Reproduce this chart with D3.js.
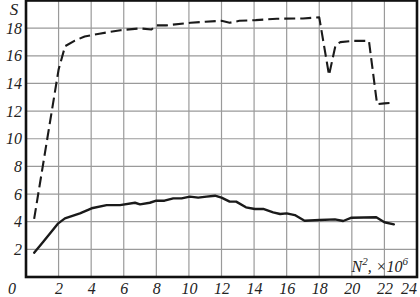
<!DOCTYPE html>
<html><head><meta charset="utf-8">
<script src="https://cdn.jsdelivr.net/npm/d3@7"></script>
<style>
body{margin:0;background:#fff;}
svg{display:block;}
text{font-family:"Liberation Serif","Times New Roman",serif;font-style:italic;fill:#222;}
</style></head>
<body>
<script>
const xTicks = [2,4,6,8,10,12,14,16,18,20,22,24];
const yTicks = [2,4,6,8,10,12,14,16,18];
const dashedX = [0.5,2.0,2.4,3.0,3.6,4.5,5.8,7.0,7.7,8.0,8.6,10.1,11.0,12.0,12.5,13.1,14.1,15.4,17.0,18.0,18.6,19.0,19.3,20.1,21.05,21.55,22.0,22.6];
const dashedY = [4.2,15.0,16.7,17.1,17.4,17.6,17.85,17.98,17.9,18.2,18.2,18.39,18.46,18.53,18.39,18.53,18.58,18.68,18.7,18.78,14.6,16.77,16.99,17.08,17.08,12.5,12.56,12.6];
const solidX = [0.5,1.06,1.98,2.39,3.31,4.03,4.95,5.77,6.69,7.0,7.6,8.0,8.5,9.04,9.55,10.06,10.57,11.08,11.6,12.0,12.5,12.9,13.5,14.05,14.56,15.17,15.6,16.0,16.5,17.1,18.04,18.96,19.47,19.98,21.5,22.0,22.58];
const solidY = [1.76,2.55,3.88,4.24,4.6,4.97,5.2,5.2,5.37,5.25,5.37,5.52,5.52,5.69,5.69,5.81,5.74,5.81,5.88,5.74,5.45,5.45,5.04,4.92,4.92,4.68,4.56,4.6,4.48,4.07,4.12,4.17,4.05,4.29,4.32,3.96,3.81];

const W = 420, H = 297;
const m = {left:26, right:3, top:0.5, bottom:20};
const svg = d3.select("body").append("svg").attr("width",W).attr("height",H);
const x = d3.scaleLinear().domain([0,24]).range([m.left, W-m.right]);
const y = d3.scaleLinear().domain([0,20]).range([H-m.bottom, m.top]);

// grid
const g = svg.append("g");
g.selectAll(".gx").data(xTicks.slice(0,-1)).join("line")
  .attr("x1",d=>x(d)).attr("x2",d=>x(d)).attr("y1",y(0)).attr("y2",y(20))
  .attr("stroke","#9a9a9a").attr("stroke-width",1.2);
g.selectAll(".gy").data(yTicks).join("line")
  .attr("x1",x(0)).attr("x2",x(24)).attr("y1",d=>y(d)).attr("y2",d=>y(d))
  .attr("stroke","#9a9a9a").attr("stroke-width",1.2);

// curves
const line = d3.line().x(d=>x(d[0])).y(d=>y(d[1]));
svg.append("path").datum(dashedX.map((v,i)=>[v,dashedY[i]]))
  .attr("d",line).attr("fill","none").attr("stroke","#1a1a1a").attr("stroke-width",2.1)
  .attr("stroke-dasharray","11,5").attr("stroke-linejoin","round");
svg.append("path").datum(solidX.map((v,i)=>[v,solidY[i]]))
  .attr("d",line).attr("fill","none").attr("stroke","#1a1a1a").attr("stroke-width",2.4)
  .attr("stroke-linejoin","round").attr("stroke-linecap","round");

// frame
svg.append("rect").attr("x",x(0)).attr("y",y(20)).attr("width",x(24)-x(0)).attr("height",y(0)-y(20))
  .attr("fill","none").attr("stroke","#111").attr("stroke-width",2.6);

// axes labels
const xa = svg.append("g").attr("transform",`translate(0,${y(0)})`)
  .call(d3.axisBottom(x).tickValues(xTicks).tickSize(0).tickFormat(d3.format("d")));
xa.select(".domain").remove();
xa.selectAll("text").attr("y",17).attr("dy","0").style("font-size","16px").style("font-family","Liberation Serif").attr("fill","#222");
xa.selectAll("text").filter(d=>d===24).attr("text-anchor","end").attr("x",-0.5);
const ya = svg.append("g").attr("transform",`translate(${x(0)},0)`)
  .call(d3.axisLeft(y).tickValues(yTicks).tickSize(0).tickPadding(4).tickFormat(d3.format("d")));
ya.select(".domain").remove();
ya.selectAll("text").style("font-size","16px").style("font-family","Liberation Serif").attr("fill","#222");

svg.append("text").attr("x",12).attr("y",294).attr("text-anchor","middle").style("font-size","16px").text("0");
svg.append("text").attr("x",14).attr("y",15).attr("text-anchor","middle").style("font-size","17px").text("S");
const lab = svg.append("text").attr("x",408).attr("y",272).attr("text-anchor","end").style("font-size","16px");
lab.append("tspan").text("N");
lab.append("tspan").attr("dy",-7).style("font-size","11px").text("2");
lab.append("tspan").attr("dy",7).text(", ×10");
lab.append("tspan").attr("dy",-7).style("font-size","11px").text("6");
</script>
</body></html>
